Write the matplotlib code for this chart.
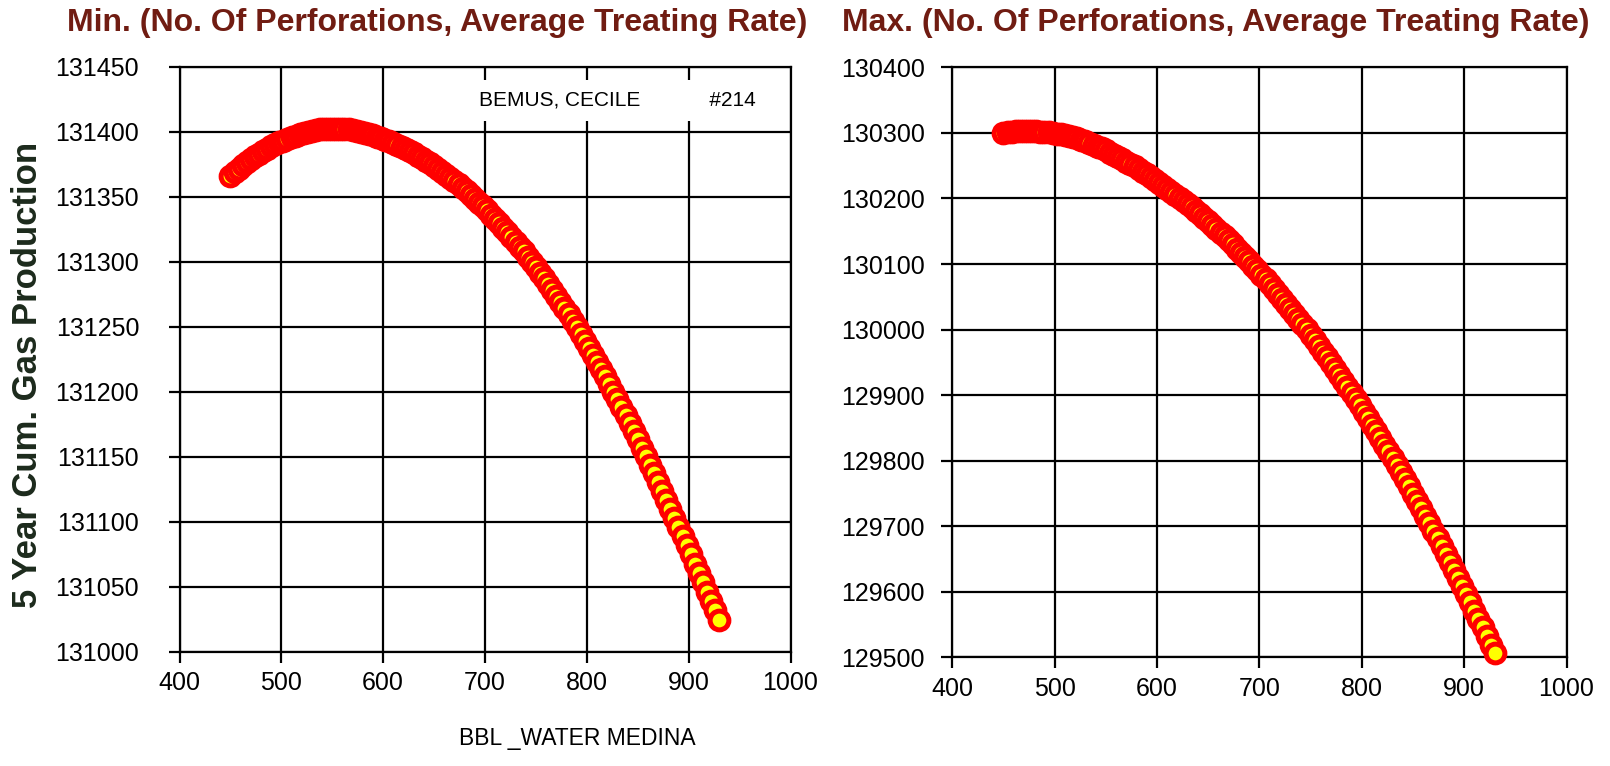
import numpy as np
import matplotlib
matplotlib.use("Agg")
import matplotlib.pyplot as plt

plt.rcParams["font.family"] = ["Liberation Sans", "DejaVu Sans"]

# BBL water (x) shared by both panels
water = [
    450, 454, 458, 462, 466, 470, 474, 478, 482, 486, 490, 494, 498, 502, 506,
    510, 514, 518, 522, 526, 530, 534, 538, 542, 546, 550, 554, 558, 562, 566,
    570, 574, 578, 582, 586, 590, 594, 598, 602, 606, 610, 614, 618, 622, 626,
    630, 634, 638, 642, 646, 650, 654, 658, 662, 666, 670, 674, 678, 682, 686,
    690, 694, 698, 702, 706, 710, 714, 718, 722, 726, 730, 734, 738, 742, 746,
    750, 754, 758, 762, 766, 770, 774, 778, 782, 786, 790, 794, 798, 802, 806,
    810, 814, 818, 822, 826, 830, 834, 838, 842, 846, 850, 854, 858, 862, 866,
    870, 874, 878, 882, 886, 890, 894, 898, 902, 906, 910, 914, 918, 922, 926,
    930,
]

gas_min = [
    131366.0, 131368.8, 131371.5, 131374.1, 131376.5, 131378.8, 131381.0, 131383.0,
    131385.0, 131386.8, 131388.6, 131390.2, 131391.8, 131393.2, 131394.6, 131395.8,
    131397.0, 131398.0, 131399.0, 131399.8, 131400.6, 131401.2, 131401.7, 131402.0,
    131402.3, 131402.4, 131402.4, 131402.3, 131402.0, 131401.7, 131401.2, 131400.6,
    131399.9, 131399.1, 131398.2, 131397.2, 131396.2, 131395.1, 131393.9, 131392.6,
    131391.3, 131389.8, 131388.3, 131386.8, 131385.1, 131383.4, 131381.5, 131379.7,
    131377.7, 131375.7, 131373.6, 131371.4, 131369.1, 131366.8, 131364.4, 131362.0,
    131359.4, 131356.8, 131354.1, 131351.3, 131348.5, 131345.5, 131342.5, 131339.4,
    131336.2, 131333.0, 131329.6, 131326.2, 131322.7, 131319.1, 131315.5, 131311.7,
    131307.9, 131303.9, 131299.9, 131295.8, 131291.6, 131287.3, 131282.9, 131278.5,
    131273.9, 131269.3, 131264.5, 131259.7, 131254.7, 131249.7, 131244.6, 131239.3,
    131234.0, 131228.6, 131223.1, 131217.5, 131211.8, 131206.0, 131200.2, 131194.3,
    131188.3, 131182.2, 131176.0, 131169.8, 131163.5, 131157.1, 131150.6, 131144.0,
    131137.4, 131130.7, 131123.9, 131117.0, 131110.1, 131103.2, 131096.2, 131089.2,
    131082.1, 131075.0, 131067.8, 131060.7, 131053.5, 131046.4, 131039.2, 131032.0,
    131024.8,
]

gas_max = [
    130300.2, 130301.3, 130302.1, 130302.7, 130303.0, 130303.0, 130302.9, 130302.7,
    130302.4, 130302.0, 130301.4, 130300.8, 130300.0, 130299.1, 130298.0, 130296.7,
    130295.2, 130293.6, 130291.7, 130289.6, 130287.3, 130284.9, 130282.2, 130279.3,
    130276.3, 130273.3, 130270.1, 130266.8, 130263.4, 130260.0, 130256.4, 130252.7,
    130248.9, 130245.0, 130241.0, 130236.9, 130232.8, 130228.5, 130224.1, 130219.6,
    130215.1, 130210.5, 130205.9, 130201.2, 130196.3, 130191.4, 130186.3, 130181.2,
    130175.9, 130170.5, 130165.0, 130159.4, 130153.7, 130147.9, 130142.0, 130135.9,
    130129.8, 130123.5, 130117.1, 130110.6, 130104.0, 130097.3, 130090.5, 130083.6,
    130076.6, 130069.4, 130062.1, 130054.8, 130047.3, 130039.7, 130032.0, 130024.2,
    130016.3, 130008.2, 130000.1, 129991.8, 129983.5, 129975.0, 129966.4, 129957.7,
    129948.9, 129940.0, 129931.0, 129921.8, 129912.6, 129903.2, 129893.8, 129884.2,
    129874.5, 129864.7, 129854.8, 129844.8, 129834.7, 129824.4, 129814.1, 129803.6,
    129793.0, 129782.3, 129771.5, 129760.6, 129749.6, 129738.5, 129727.3, 129715.9,
    129704.5, 129692.9, 129681.2, 129669.4, 129657.5, 129645.5, 129633.4, 129621.2,
    129608.9, 129596.4, 129583.8, 129571.1, 129558.3, 129545.4, 129532.4, 129519.3,
    129506.1,
]

x_ticks = [400, 500, 600, 700, 800, 900, 1000]
min_ticks = [131000, 131050, 131100, 131150, 131200, 131250, 131300, 131350, 131400, 131450]
max_ticks = [129500, 129600, 129700, 129800, 129900, 130000, 130100, 130200, 130300, 130400]

titles = ["Min. (No. Of Perforations, Average Treating Rate)",
          "Max. (No. Of Perforations, Average Treating Rate)"]
TITLE_COLOR = "#701c12"

fig = plt.figure(figsize=(16.1, 7.66), dpi=100)
ax1 = fig.add_axes([0.1115, 0.149, 0.3795, 0.764])
ax2 = fig.add_axes([0.5915, 0.142, 0.3815, 0.770])

for ax, ys, yt in [(ax1, gas_min, min_ticks), (ax2, gas_max, max_ticks)]:
    ax.set_axisbelow(True)
    ax.grid(True, color="black", lw=1.6)
    ax.plot(water, ys, "o", ls="none", ms=13.5, mew=3.6, mfc="#ffff00", mec="#ff0000",
            clip_on=False, zorder=3)
    ax.set_xlim(400, 1000)
    ax.set_ylim(yt[0], yt[-1])
    ax.set_xticks(x_ticks)
    ax.set_yticks(yt)
    ax.ticklabel_format(useOffset=False, style="plain")
    ax.tick_params(direction="out", length=8, width=1.6, labelsize=18, color="black")
    ax.tick_params(axis="x", pad=6)
    for sp in ax.spines.values():
        sp.set_linewidth(1.6)
ax1.tick_params(axis="y", pad=21)
ax2.tick_params(axis="y", pad=12)

ax1.text(694.5, 131424, "BEMUS, CECILE            #214", fontsize=15, va="center", ha="left",
         bbox=dict(facecolor="white", edgecolor="none", pad=8), zorder=4)

fig.text(437 / 1610, 0.970, titles[0], ha="center", va="center", fontsize=23,
         fontweight="bold", color=TITLE_COLOR)
fig.text(1216 / 1610, 0.970, titles[1], ha="center", va="center", fontsize=23,
         fontweight="bold", color=TITLE_COLOR)

fig.text(28 / 1610, 0.51, "5 Year Cum. Gas Production", rotation=90, ha="center", va="center",
         fontsize=25, fontweight="bold", color="#1c2a1c")
fig.text(577 / 1610, 1 - 739 / 766, "BBL _WATER MEDINA", ha="center", va="center",
         fontsize=16.5)

fig.savefig("out.png", dpi=100)
